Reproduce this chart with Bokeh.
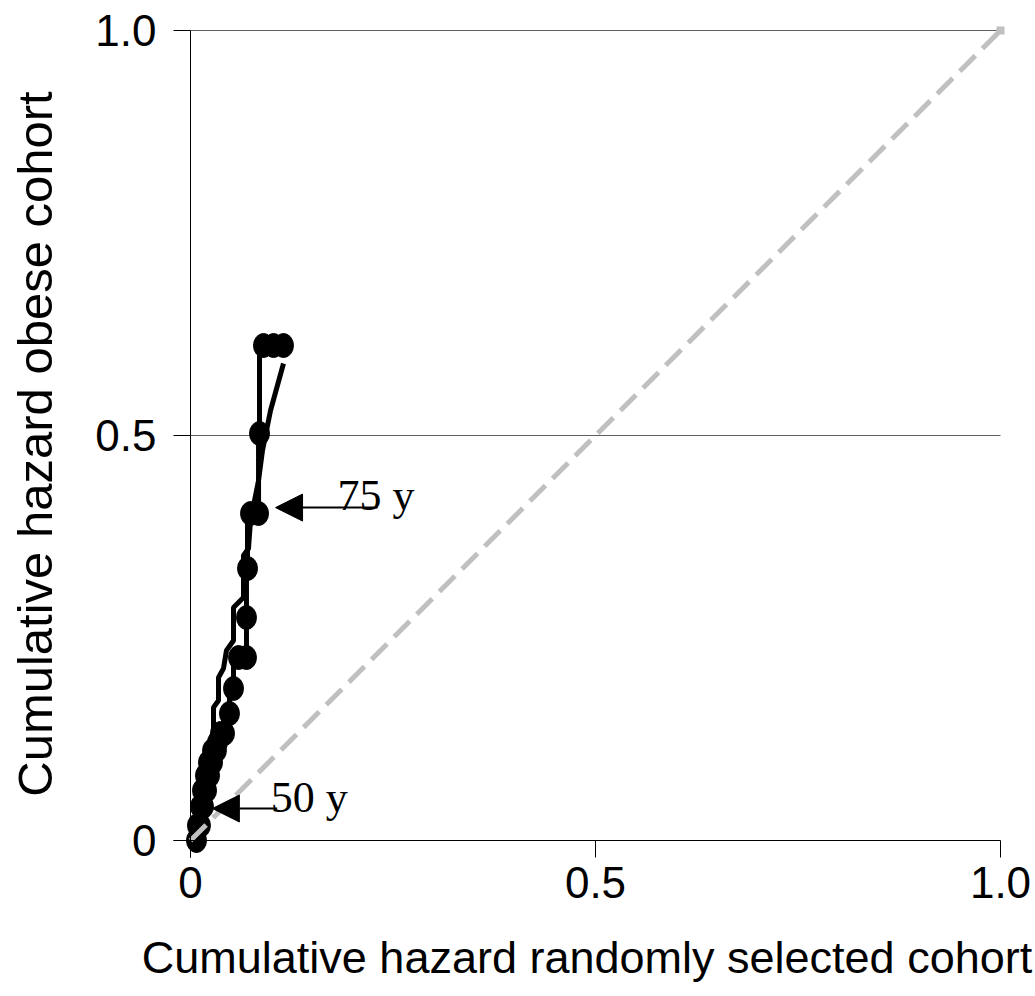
from bokeh.plotting import figure
from bokeh.models import Range1d, FixedTicker, Arrow, NormalHead, ColumnDataSource
from bokeh.core.properties import value
from bokeh.embed import file_html
from bokeh.resources import INLINE

# ---- data ----
# observed step series (cumulative hazard: random cohort vs obese cohort)
obs_x = [0.0074, 0.0086, 0.0123, 0.0123, 0.0160, 0.0148, 0.0198, 0.0185, 0.0235, 0.0222, 0.0272,
         0.0272, 0.0320, 0.0333, 0.0370, 0.0420, 0.0481, 0.0531, 0.0593, 0.0691, 0.0691, 0.0704,
         0.0741, 0.0840, 0.0852, 0.0901, 0.1025, 0.1148]
obs_y = [0.0000, 0.0185, 0.0185, 0.0420, 0.0420, 0.0617, 0.0617, 0.0802, 0.0802, 0.0963, 0.0963,
         0.1111, 0.1111, 0.1210, 0.1321, 0.1321, 0.1568, 0.1877, 0.2259, 0.2259, 0.2753, 0.3358,
         0.4037, 0.4037, 0.5025, 0.6111, 0.6111, 0.6111]
# fitted curve
fit_x = [0.0, 0.0049, 0.0099, 0.0160, 0.0222, 0.0284, 0.0284, 0.0346, 0.0346, 0.0407, 0.0444,
         0.0531, 0.0531, 0.0654, 0.0654, 0.0716, 0.0741, 0.0840, 0.0889, 0.0988, 0.1148]
fit_y = [0.0, 0.0123, 0.0494, 0.0741, 0.0988, 0.1235, 0.1642, 0.1728, 0.2012, 0.2123, 0.2346,
         0.2469, 0.2877, 0.3000, 0.3519, 0.3605, 0.3951, 0.4444, 0.4815, 0.5309, 0.5889]
# line of identity
diag_x = [0.0, 1.0]
diag_y = [0.0, 1.0]
# annotations
ann_text = ["75 y", "50 y"]
ann_x = [0.1815, 0.099]
ann_y = [0.426, 0.053]
arrow_x_start = [0.231, 0.107]
arrow_x_end = [0.105, 0.027]
arrow_y = [0.411, 0.0395]
# ticks
tick_vals = [0.0, 0.5, 1.0]
tick_labels = ["0", "0.5", "1.0"]
grid_vals = [0.5, 1.0]
x_title = "Cumulative hazard randomly selected cohort"
y_title = "Cumulative hazard obese cohort"

FONT = "Liberation Sans"
S = 810.0  # pixels per data unit
AX0 = -17 / S  # axis lines run slightly past the origin

p = figure(width=1035, height=996, output_backend="svg", toolbar_location=None,
           x_range=Range1d(-190 / S, 1 + 35 / S), y_range=Range1d(-156 / S, 1 + 30 / S),
           min_border=0, min_border_left=0, min_border_right=0, min_border_top=0, min_border_bottom=0)
p.outline_line_color = None
p.background_fill_color = "white"
p.border_fill_color = "white"
p.grid.visible = False

overrides = {v: t for v, t in zip(tick_vals, tick_labels)}
for ax in (p.xaxis[0], p.yaxis[0]):
    ax.ticker = FixedTicker(ticks=tick_vals)
    ax.major_label_overrides = overrides
    ax.fixed_location = 0
    ax.bounds = (AX0, 1)
    ax.axis_line_color = "black"
    ax.axis_line_width = 1
    ax.major_tick_line_color = "black"
    ax.major_tick_out = 17
    ax.major_tick_in = 0
    ax.minor_tick_line_color = None
    ax.major_label_text_font = FONT
    ax.major_label_text_font_size = "44px"
    ax.major_label_text_color = "black"
    ax.axis_label_text_font = FONT
    ax.axis_label_text_font_style = "normal"
    ax.axis_label_text_color = "black"

p.xaxis.axis_label = x_title
p.yaxis.axis_label = y_title
p.xaxis.axis_label_text_font_size = "45px"
p.yaxis.axis_label_text_font_size = "49px"
p.xaxis.major_label_standoff = 9
p.xaxis.axis_label_standoff = 31
p.yaxis.major_label_standoff = 17
p.yaxis.axis_label_standoff = 30
p.yaxis.major_label_orientation = "horizontal"

# horizontal grid lines limited to the plot area
p.segment(x0=[0.0] * len(grid_vals), y0=grid_vals, x1=[1.0] * len(grid_vals), y1=grid_vals,
          line_color="#606060", line_width=1)

# fitted line
p.line(fit_x, fit_y, line_color="black", line_width=5)
# observed step line with markers
p.step(obs_x, obs_y, mode="before", line_color="black", line_width=5)
p.ellipse(obs_x, obs_y, width=20, height=24, width_units="screen", height_units="screen",
          fill_color="black", line_color="black")
# identity line
p.line(diag_x, diag_y, line_color="#C0C0C0", line_width=5, line_dash="22 10")
p.scatter(diag_x[-1:], diag_y[-1:], marker="square", size=8, fill_color="#C0C0C0", line_color=None)

# annotations
p.text(ann_x, ann_y, text=ann_text, text_font=value("Liberation Serif"), text_font_size="44px",
       text_baseline="alphabetic", text_align="left", text_color="black")
asrc = ColumnDataSource(dict(xs=arrow_x_start, xe=arrow_x_end, y=arrow_y))
p.add_layout(Arrow(end=NormalHead(size=27, fill_color="black", line_color="black"),
                   x_start="xs", y_start="y", x_end="xe", y_end="y", source=asrc,
                   line_color="black", line_width=2))

open("out.html", "w").write(file_html(p, INLINE))
